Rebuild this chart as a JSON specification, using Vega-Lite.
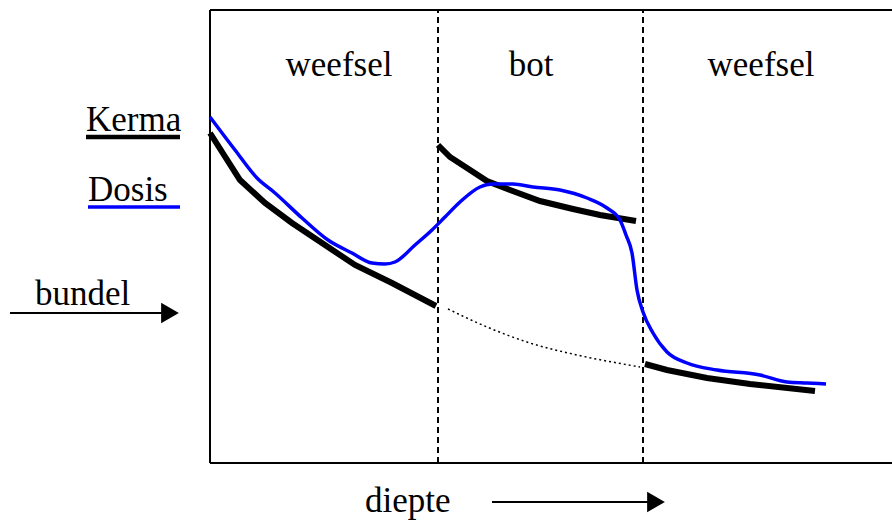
{
  "$schema": "https://vega.github.io/schema/vega-lite/v6.json",
  "width": 682,
  "height": 453,
  "autosize": {"type": "none"},
  "padding": {"left": 210, "top": 10, "right": 0, "bottom": 60},
  "background": "white",
  "config": {"view": {"stroke": null}},
  "datasets": {
    "frame": [
      {"x": 0, "y": 0, "x2": 0, "y2": 453},
      {"x": 0, "y": 0, "x2": 682, "y2": 0},
      {"x": 0, "y": 453, "x2": 682, "y2": 453}
    ],
    "bounds": [
      {"x": 228, "y": 0, "y2": 453},
      {"x": 433, "y": 0, "y2": 453}
    ],
    "curves": [
      {"curve": "kerma", "seg": "k1", "depth": 0, "value": 330},
      {"curve": "kerma", "seg": "k1", "depth": 30, "value": 283},
      {"curve": "kerma", "seg": "k1", "depth": 55, "value": 260},
      {"curve": "kerma", "seg": "k1", "depth": 82, "value": 240},
      {"curve": "kerma", "seg": "k1", "depth": 112, "value": 220},
      {"curve": "kerma", "seg": "k1", "depth": 145, "value": 198},
      {"curve": "kerma", "seg": "k1", "depth": 182, "value": 180},
      {"curve": "kerma", "seg": "k1", "depth": 226, "value": 157},
      {"curve": "kerma", "seg": "k2", "depth": 228, "value": 318},
      {"curve": "kerma", "seg": "k2", "depth": 240, "value": 306},
      {"curve": "kerma", "seg": "k2", "depth": 257, "value": 295},
      {"curve": "kerma", "seg": "k2", "depth": 277, "value": 282},
      {"curve": "kerma", "seg": "k2", "depth": 300, "value": 273},
      {"curve": "kerma", "seg": "k2", "depth": 330, "value": 262},
      {"curve": "kerma", "seg": "k2", "depth": 363, "value": 254},
      {"curve": "kerma", "seg": "k2", "depth": 390, "value": 248},
      {"curve": "kerma", "seg": "k2", "depth": 426, "value": 242},
      {"curve": "kerma", "seg": "k3", "depth": 435, "value": 99},
      {"curve": "kerma", "seg": "k3", "depth": 457, "value": 93},
      {"curve": "kerma", "seg": "k3", "depth": 497, "value": 85},
      {"curve": "kerma", "seg": "k3", "depth": 540, "value": 79},
      {"curve": "kerma", "seg": "k3", "depth": 605, "value": 72},
      {"curve": "dotted", "seg": "k0", "depth": 238, "value": 154},
      {"curve": "dotted", "seg": "k0", "depth": 277, "value": 136},
      {"curve": "dotted", "seg": "k0", "depth": 320, "value": 120},
      {"curve": "dotted", "seg": "k0", "depth": 367, "value": 108},
      {"curve": "dotted", "seg": "k0", "depth": 413, "value": 99},
      {"curve": "dotted", "seg": "k0", "depth": 430, "value": 96},
      {"curve": "dosis", "seg": "d", "depth": 0, "value": 346},
      {"curve": "dosis", "seg": "d", "depth": 25, "value": 313},
      {"curve": "dosis", "seg": "d", "depth": 47, "value": 285},
      {"curve": "dosis", "seg": "d", "depth": 65, "value": 270},
      {"curve": "dosis", "seg": "d", "depth": 92, "value": 245},
      {"curve": "dosis", "seg": "d", "depth": 118, "value": 223},
      {"curve": "dosis", "seg": "d", "depth": 142, "value": 210},
      {"curve": "dosis", "seg": "d", "depth": 162, "value": 200},
      {"curve": "dosis", "seg": "d", "depth": 175, "value": 199},
      {"curve": "dosis", "seg": "d", "depth": 185, "value": 201},
      {"curve": "dosis", "seg": "d", "depth": 205, "value": 218},
      {"curve": "dosis", "seg": "d", "depth": 222, "value": 233},
      {"curve": "dosis", "seg": "d", "depth": 235, "value": 246},
      {"curve": "dosis", "seg": "d", "depth": 250, "value": 261},
      {"curve": "dosis", "seg": "d", "depth": 270, "value": 276},
      {"curve": "dosis", "seg": "d", "depth": 282, "value": 279},
      {"curve": "dosis", "seg": "d", "depth": 303, "value": 279},
      {"curve": "dosis", "seg": "d", "depth": 323, "value": 276},
      {"curve": "dosis", "seg": "d", "depth": 350, "value": 273},
      {"curve": "dosis", "seg": "d", "depth": 377, "value": 265},
      {"curve": "dosis", "seg": "d", "depth": 397, "value": 255},
      {"curve": "dosis", "seg": "d", "depth": 410, "value": 243},
      {"curve": "dosis", "seg": "d", "depth": 416, "value": 228},
      {"curve": "dosis", "seg": "d", "depth": 422, "value": 210},
      {"curve": "dosis", "seg": "d", "depth": 427, "value": 173},
      {"curve": "dosis", "seg": "d", "depth": 433, "value": 151},
      {"curve": "dosis", "seg": "d", "depth": 443, "value": 130},
      {"curve": "dosis", "seg": "d", "depth": 457, "value": 111},
      {"curve": "dosis", "seg": "d", "depth": 477, "value": 100},
      {"curve": "dosis", "seg": "d", "depth": 507, "value": 93},
      {"curve": "dosis", "seg": "d", "depth": 550, "value": 88},
      {"curve": "dosis", "seg": "d", "depth": 577, "value": 81},
      {"curve": "dosis", "seg": "d", "depth": 597, "value": 80},
      {"curve": "dosis", "seg": "d", "depth": 616, "value": 79}
    ],
    "legendlines": [
      {"key": "kerma", "x": -124, "x2": -30, "y": 326},
      {"key": "dosis", "x": -122, "x2": -30, "y": 256}
    ],
    "regionlabels": [
      {"label": "weefsel", "x": 129, "y": 387},
      {"label": "bot", "x": 321, "y": 387},
      {"label": "weefsel", "x": 551, "y": 387}
    ],
    "sidelabels": [
      {"label": "Kerma", "x": -124, "y": 332},
      {"label": "Dosis", "x": -122, "y": 262},
      {"label": "bundel", "x": -175, "y": 158},
      {"label": "diepte", "x": 155, "y": -49}
    ],
    "arrows": [
      {"name": "bundel", "x": -200, "x2": -40, "y": 150, "hx": -40},
      {"name": "diepte", "x": 282, "x2": 446, "y": -39, "hx": 446}
    ]
  },
  "layer": [
    {
      "data": {"name": "frame"},
      "mark": {"type": "rule", "stroke": "black", "strokeWidth": 2, "clip": false},
      "encoding": {
        "x": {"field": "x", "type": "quantitative", "scale": {"domain": [0, 682], "nice": false, "zero": false}, "axis": null},
        "y": {"field": "y", "type": "quantitative", "scale": {"domain": [0, 453], "nice": false, "zero": false}, "axis": null},
        "x2": {"field": "x2"},
        "y2": {"field": "y2"}
      }
    },
    {
      "data": {"name": "bounds"},
      "mark": {"type": "rule", "stroke": "black", "strokeWidth": 2, "strokeDash": [6, 4]},
      "encoding": {
        "x": {"field": "x", "type": "quantitative"},
        "y": {"field": "y", "type": "quantitative"},
        "y2": {"field": "y2"}
      }
    },
    {
      "data": {"name": "curves"},
      "transform": [{"filter": "datum.curve === 'dotted'"}],
      "mark": {"type": "line", "stroke": "black", "strokeWidth": 1.5, "strokeDash": [2, 3], "interpolate": "monotone", "clip": false},
      "encoding": {
        "x": {"field": "depth", "type": "quantitative"},
        "y": {"field": "value", "type": "quantitative"},
        "detail": {"field": "seg"}
      }
    },
    {
      "data": {"name": "curves"},
      "transform": [{"filter": "datum.curve === 'kerma'"}],
      "mark": {"type": "line", "stroke": "black", "strokeWidth": 6, "strokeCap": "butt", "interpolate": "linear", "clip": false},
      "encoding": {
        "x": {"field": "depth", "type": "quantitative"},
        "y": {"field": "value", "type": "quantitative"},
        "detail": {"field": "seg"}
      }
    },
    {
      "data": {"name": "curves"},
      "transform": [{"filter": "datum.curve === 'dosis'"}],
      "mark": {"type": "line", "stroke": "#0000ff", "strokeWidth": 3.5, "strokeCap": "butt", "interpolate": "monotone", "clip": false},
      "encoding": {
        "x": {"field": "depth", "type": "quantitative"},
        "y": {"field": "value", "type": "quantitative"},
        "detail": {"field": "seg"}
      }
    },
    {
      "data": {"name": "legendlines"},
      "mark": {"type": "rule", "strokeCap": "butt", "clip": false},
      "encoding": {
        "x": {"field": "x", "type": "quantitative"},
        "x2": {"field": "x2"},
        "y": {"field": "y", "type": "quantitative"},
        "color": {"field": "key", "type": "nominal", "scale": {"domain": ["kerma", "dosis"], "range": ["black", "#0000ff"]}, "legend": null},
        "strokeWidth": {"field": "key", "type": "nominal", "scale": {"domain": ["kerma", "dosis"], "range": [4.5, 3.5]}, "legend": null}
      }
    },
    {
      "data": {"name": "arrows"},
      "mark": {"type": "rule", "stroke": "black", "strokeWidth": 2, "clip": false},
      "encoding": {
        "x": {"field": "x", "type": "quantitative"},
        "x2": {"field": "x2"},
        "y": {"field": "y", "type": "quantitative"}
      }
    },
    {
      "data": {"name": "arrows"},
      "mark": {"type": "point", "shape": "triangle-right", "filled": true, "color": "black", "opacity": 1, "size": 420, "clip": false},
      "encoding": {
        "x": {"field": "hx", "type": "quantitative"},
        "y": {"field": "y", "type": "quantitative"}
      }
    },
    {
      "data": {"name": "regionlabels"},
      "mark": {"type": "text", "font": "Liberation Serif", "fontSize": 35, "color": "black", "baseline": "alphabetic", "align": "center", "clip": false},
      "encoding": {
        "x": {"field": "x", "type": "quantitative"},
        "y": {"field": "y", "type": "quantitative"},
        "text": {"field": "label"}
      }
    },
    {
      "data": {"name": "sidelabels"},
      "mark": {"type": "text", "font": "Liberation Serif", "fontSize": 35, "color": "black", "baseline": "alphabetic", "align": "left", "clip": false},
      "encoding": {
        "x": {"field": "x", "type": "quantitative"},
        "y": {"field": "y", "type": "quantitative"},
        "text": {"field": "label"}
      }
    }
  ]
}
